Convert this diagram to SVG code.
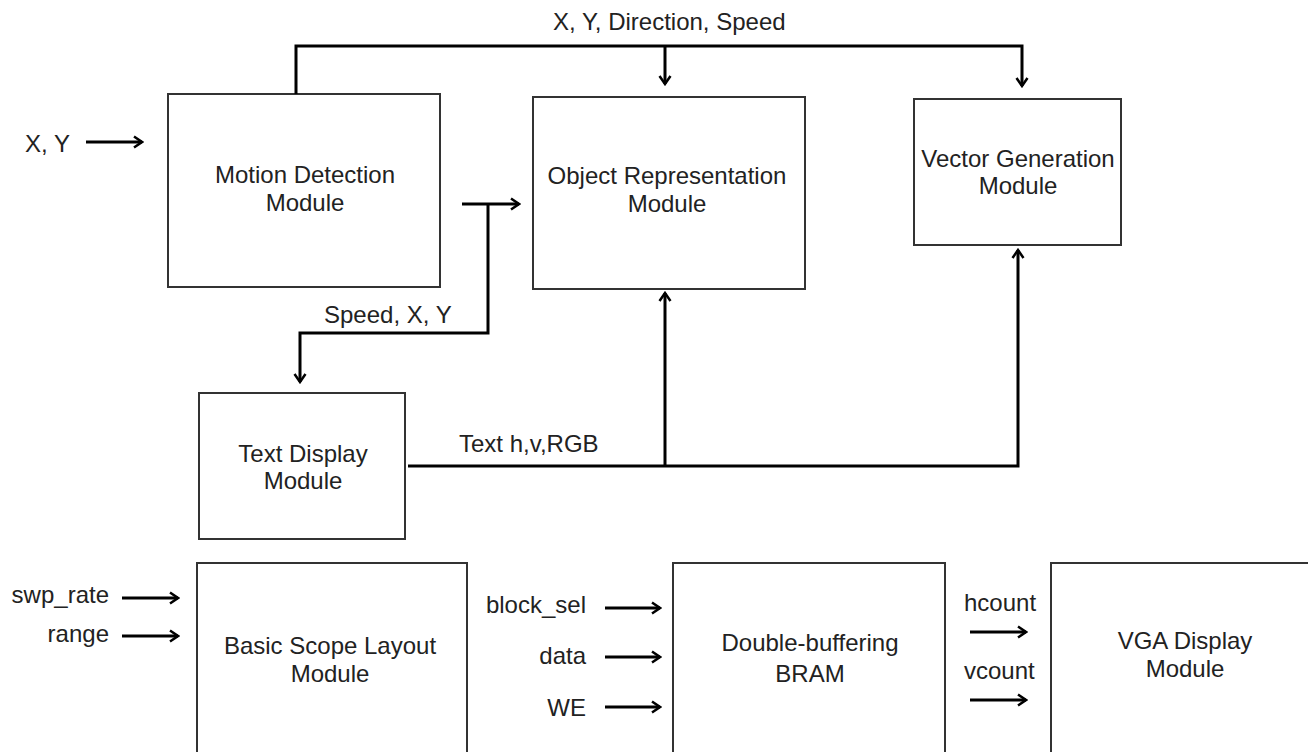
<svg xmlns="http://www.w3.org/2000/svg" width="1308" height="752" viewBox="0 0 1308 752">
<style>
.box{fill:#fff;stroke:#333;stroke-width:2}
.w{fill:none;stroke:#000;stroke-width:3}
.a{fill:none;stroke:#000;stroke-width:3;marker-end:url(#arr)}
text{font-family:"Liberation Sans",Arial,sans-serif;font-size:24px;fill:#222}
.c{text-anchor:middle}
.e{text-anchor:end}
</style>
<defs>
<marker id="arr" viewBox="-10 -7 12 14" refX="0" refY="0" markerWidth="12" markerHeight="14" markerUnits="userSpaceOnUse" orient="auto">
<path d="M-8,-5.5 L0,0 L-8,5.5" fill="none" stroke="#000" stroke-width="2.5"/>
</marker>
</defs>
<rect width="1308" height="752" fill="#fff"/>
<g id="motion"><rect class="box" x="168" y="94" width="272" height="193"/><text class="c" x="305" y="183">Motion Detection</text><text class="c" x="305" y="211">Module</text></g>
<g id="object"><rect class="box" x="533" y="97" width="272" height="192"/><text class="c" x="667" y="184">Object Representation</text><text class="c" x="667" y="212">Module</text></g>
<g id="vector"><rect class="box" x="914" y="99" width="207" height="146"/><text class="c" x="1018" y="167">Vector Generation</text><text class="c" x="1018" y="194">Module</text></g>
<g id="textdisp"><rect class="box" x="199" y="393" width="206" height="146"/><text class="c" x="303" y="462">Text Display</text><text class="c" x="303" y="489">Module</text></g>
<g id="scope"><rect class="box" x="197" y="563" width="270" height="200"/><text class="c" x="330" y="654">Basic Scope Layout</text><text class="c" x="330" y="682">Module</text></g>
<g id="bram"><rect class="box" x="673" y="563" width="272" height="200"/><text class="c" x="810" y="651">Double-buffering</text><text class="c" x="810" y="682">BRAM</text></g>
<g id="vga"><rect class="box" x="1051" y="563" width="280" height="200"/><text class="c" x="1185" y="649">VGA Display</text><text class="c" x="1185" y="677">Module</text></g>
<g id="connectors">
<path class="a" d="M296,94 V46 H1022 V86"/>
<path class="a" d="M665,46 V84"/>
<path class="a" d="M462,204 H519"/>
<path class="a" d="M488,204 V333 H300 V382"/>
<path class="a" d="M408,466 H1018 V250"/>
<path class="a" d="M665,466 V293"/>
<path class="a" d="M86,142 H142"/>
<path class="a" d="M122,598 H178"/>
<path class="a" d="M122,636 H178"/>
<path class="a" d="M605,608 H660"/>
<path class="a" d="M605,657 H660"/>
<path class="a" d="M605,707 H660"/>
<path class="a" d="M970,632 H1026"/>
<path class="a" d="M970,700 H1026"/>
</g>
<g id="labels">
<text x="553" y="30">X, Y, Direction, Speed</text>
<text x="25" y="152">X, Y</text>
<text x="324" y="323">Speed, X, Y</text>
<text x="459" y="452">Text h,v,RGB</text>
<text class="e" x="109" y="603">swp_rate</text>
<text class="e" x="109" y="642">range</text>
<text class="e" x="586" y="613">block_sel</text>
<text class="e" x="586" y="664">data</text>
<text class="e" x="586" y="716">WE</text>
<text x="964" y="611">hcount</text>
<text x="964" y="679">vcount</text>
</g>
</svg>
